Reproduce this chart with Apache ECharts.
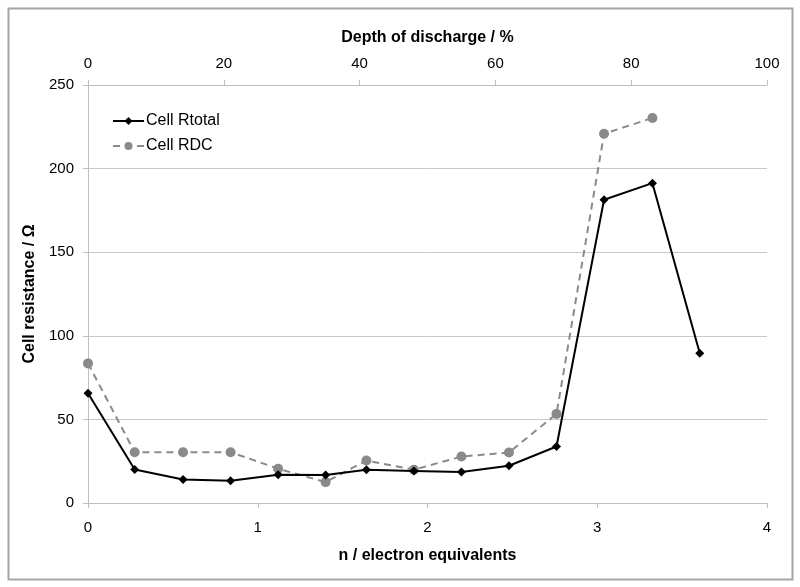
<!DOCTYPE html>
<html>
<head>
<meta charset="utf-8">
<script src="https://cdn.jsdelivr.net/npm/echarts@6/dist/echarts.min.js"></script>
<style>html,body{margin:0;padding:0;background:#fff}#c{width:800px;height:587px}</style>
</head>
<body>
<div id="c"></div>
<script>
var xRtotal = [0, 0.275, 0.56, 0.84, 1.12, 1.40, 1.64, 1.92, 2.20, 2.48, 2.76, 3.04, 3.325, 3.604];
var yRtotal = [65.6, 20, 14, 13.3, 16.9, 16.7, 19.9, 19.2, 18.5, 22.3, 33.8, 181.4, 191.3, 89.5];
var xRDC = [0, 0.275, 0.56, 0.84, 1.12, 1.40, 1.64, 1.92, 2.20, 2.48, 2.76, 3.04, 3.325];
var yRDC = [83.5, 30.4, 30.4, 30.4, 20.5, 12.5, 25.4, 19.9, 27.8, 30.2, 53.3, 220.8, 230.3];
var bottomTicks = [0, 1, 2, 3, 4];
var topTicks = [0, 20, 40, 60, 80, 100];
var yTicks = [0, 50, 100, 150, 200, 250];

function pairs(xs, ys) { return xs.map(function (x, i) { return [x, ys[i]]; }); }

var font = 'Liberation Sans, Arial, sans-serif';
var chart = echarts.init(document.getElementById('c'), null, {renderer: 'canvas'});
chart.setOption({
  animation: false,
  backgroundColor: '#fff',
  graphic: [{
    type: 'rect', left: 6, top: 6, shape: {width: 784, height: 571},
    style: {fill: 'none', stroke: '#a6a6a6', lineWidth: 2}
  }],
  grid: {left: 88, right: 33, top: 85, bottom: 84, containLabel: false},
  legend: {
    orient: 'vertical', left: 107, top: 108, itemWidth: 31, itemHeight: 10, itemGap: 9,
    textStyle: {fontFamily: font, fontSize: 16, color: '#000', padding: [0, 0, 0, -3]},
    data: ['Cell Rtotal', 'Cell RDC']
  },
  xAxis: [{
    type: 'value', position: 'bottom', min: bottomTicks[0], max: bottomTicks[bottomTicks.length - 1], interval: 1,
    name: 'n / electron equivalents', nameLocation: 'middle', nameGap: 45,
    nameTextStyle: {fontFamily: font, fontSize: 16, fontWeight: 'bold', color: '#000'},
    axisLine: {show: true, lineStyle: {color: '#bfbfbf', width: 1}},
    axisTick: {show: true, length: 5, lineStyle: {color: '#bfbfbf'}},
    axisLabel: {fontFamily: font, fontSize: 15, color: '#000', margin: 17},
    splitLine: {show: false}
  }, {
    type: 'value', position: 'top', min: topTicks[0], max: topTicks[topTicks.length - 1], interval: 20,
    name: 'Depth of discharge / %', nameLocation: 'middle', nameGap: 39,
    nameTextStyle: {fontFamily: font, fontSize: 16, fontWeight: 'bold', color: '#000'},
    axisLine: {show: true, lineStyle: {color: '#bfbfbf', width: 1}},
    axisTick: {show: true, length: 5, lineStyle: {color: '#bfbfbf'}},
    axisLabel: {fontFamily: font, fontSize: 15, color: '#000', margin: 14},
    splitLine: {show: false}
  }],
  yAxis: {
    type: 'value', min: yTicks[0], max: yTicks[yTicks.length - 1], interval: 50,
    name: 'Cell resistance / \u03A9', nameLocation: 'middle', nameGap: 50, nameRotate: 90,
    nameTextStyle: {fontFamily: font, fontSize: 16, fontWeight: 'bold', color: '#000'},
    axisLine: {show: true, lineStyle: {color: '#bfbfbf', width: 1}},
    axisTick: {show: true, length: 5, lineStyle: {color: '#bfbfbf'}},
    axisLabel: {fontFamily: font, fontSize: 15, color: '#000', margin: 14},
    splitLine: {show: true, lineStyle: {color: '#c8c8c8', width: 1}}
  },
  series: [{
    name: 'Cell Rtotal', type: 'line', xAxisIndex: 0, data: pairs(xRtotal, yRtotal),
    symbol: 'diamond', symbolSize: 9, showAllSymbol: true,
    lineStyle: {color: '#000', width: 2}, itemStyle: {color: '#000'}, z: 3
  }, {
    name: 'Cell RDC', type: 'line', xAxisIndex: 0, data: pairs(xRDC, yRDC),
    symbol: 'circle', symbolSize: 10, showAllSymbol: true,
    lineStyle: {color: '#8a8a8a', width: 2, type: [7, 5]}, itemStyle: {color: '#8a8a8a'}, z: 2
  }]
});
</script>
</body>
</html>
